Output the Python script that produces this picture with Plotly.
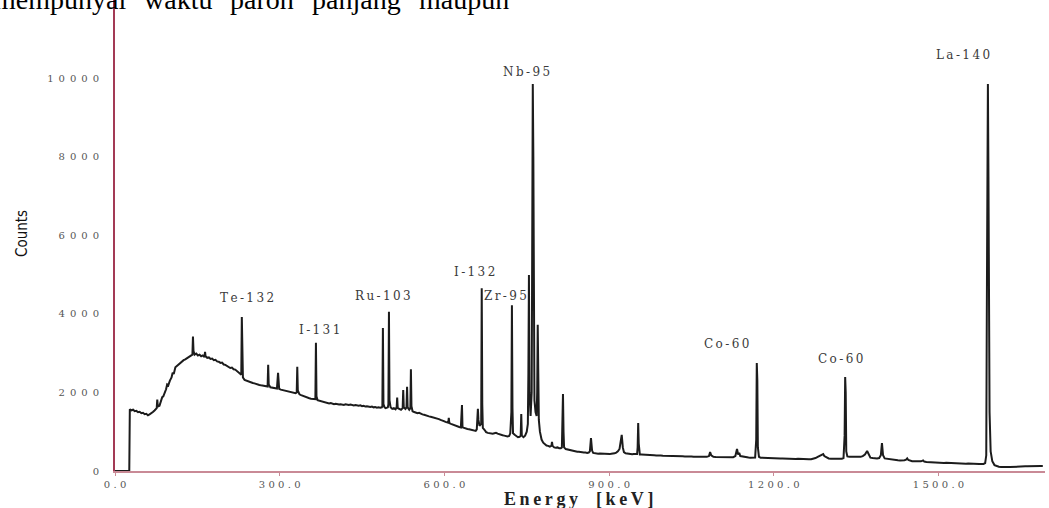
import plotly.graph_objects as go

# ---------------- data ----------------
spectrum_points = [
    (0, 0), (26, 0), (27, 1570), (30, 1545), (33, 1560), (36, 1520), (39, 1530), (42, 1495),
    (45, 1505), (48, 1470), (51, 1480), (54, 1445), (57, 1455), (60, 1420), (63, 1440),
    (66, 1465), (69, 1500), (72, 1540), (75, 1580), (76, 1600), (77, 1820), (78, 1640),
    (81, 1660), (84, 1780), (86, 1880), (88, 1900), (90, 1960), (93, 2080), (95, 2200),
    (97, 2180), (100, 2300), (103, 2380), (105, 2500), (107, 2470), (110, 2640), (113, 2680),
    (116, 2720), (119, 2760), (122, 2790), (125, 2820), (128, 2840), (131, 2870), (134, 2890),
    (137, 2910), (140, 2940), (141, 2960), (142, 3420), (143, 3050), (145, 2960), (148, 2990),
    (151, 2940), (154, 2960), (157, 2920), (160, 2940), (163, 2900), (164, 3030), (165, 2920),
    (168, 2880), (171, 2890), (174, 2850), (177, 2860), (180, 2820), (183, 2830), (186, 2790),
    (189, 2780), (192, 2750), (195, 2760), (198, 2710), (201, 2700), (204, 2670), (207, 2660),
    (210, 2620), (213, 2630), (216, 2590), (219, 2580), (222, 2540), (225, 2520), (228, 2470),
    (230, 2450), (231, 3920), (232, 2600), (233, 2380), (236, 2320), (239, 2300), (242, 2290),
    (245, 2270), (248, 2260), (251, 2240), (254, 2230), (257, 2210), (260, 2200), (263, 2190),
    (266, 2180), (269, 2170), (272, 2160), (275, 2150), (278, 2150), (279, 2700), (280, 2200),
    (283, 2130), (286, 2120), (289, 2110), (292, 2100), (295, 2100), (297, 2500), (299, 2090),
    (302, 2070), (305, 2060), (308, 2050), (311, 2040), (314, 2030), (317, 2020), (320, 2010),
    (323, 2000), (326, 1990), (329, 1980), (331, 2000), (332, 2650), (333, 2050), (336, 1950),
    (339, 1930), (342, 1910), (345, 1890), (348, 1870), (351, 1860), (354, 1850), (357, 1840),
    (360, 1830), (363, 1820), (365, 1830), (366, 3260), (367, 1900), (369, 1800), (372, 1790),
    (375, 1770), (378, 1760), (381, 1750), (384, 1740), (387, 1730), (390, 1720), (393, 1730),
    (396, 1710), (399, 1700), (402, 1710), (405, 1700), (408, 1690), (411, 1700), (414, 1690),
    (417, 1680), (420, 1700), (423, 1690), (426, 1680), (429, 1690), (432, 1680), (435, 1670),
    (438, 1680), (441, 1670), (444, 1660), (447, 1670), (450, 1650), (453, 1660), (456, 1640),
    (459, 1650), (462, 1640), (465, 1630), (468, 1640), (471, 1620), (474, 1630), (477, 1610),
    (480, 1620), (483, 1610), (486, 1620), (487, 1650), (488, 3640), (489, 1700), (491, 1620),
    (493, 1600), (497, 1620), (498, 1700), (499, 4050), (500, 1800), (502, 1620), (505, 1580),
    (508, 1600), (511, 1570), (513, 1620), (514, 1870), (515, 1600), (518, 1580), (521, 1560),
    (524, 1600), (525, 2060), (526, 1620), (529, 1580), (531, 1620), (532, 2140), (533, 1620),
    (536, 1560), (538, 1600), (539, 2590), (540, 1650), (542, 1520), (545, 1500), (548, 1490),
    (551, 1470), (554, 1480), (557, 1450), (560, 1440), (563, 1430), (566, 1410), (569, 1400),
    (572, 1390), (575, 1380), (578, 1370), (581, 1350), (584, 1340), (587, 1330), (590, 1320),
    (593, 1300), (596, 1290), (599, 1270), (602, 1250), (605, 1230), (607, 1230), (608, 1350),
    (609, 1220), (612, 1200), (615, 1180), (618, 1170), (621, 1150), (624, 1140), (627, 1120),
    (630, 1110), (632, 1680), (633, 1110), (636, 1090), (639, 1080), (642, 1070), (645, 1060),
    (648, 1050), (651, 1040), (654, 1030), (657, 1020), (659, 1060), (661, 1580), (662, 1300),
    (664, 1150), (667, 1200), (668, 4650), (669, 1700), (670, 1100), (673, 1050), (676, 990),
    (679, 970), (682, 960), (685, 960), (688, 950), (691, 960), (694, 970), (697, 950),
    (700, 930), (703, 920), (706, 910), (709, 900), (712, 890), (715, 880), (718, 890),
    (720, 960), (722, 1500), (723, 4220), (724, 1600), (725, 960), (728, 920), (731, 880),
    (734, 860), (737, 870), (739, 900), (740, 1450), (741, 900), (744, 860), (747, 900),
    (750, 1000), (752, 1200), (753, 2500), (754, 4990), (755, 2000), (757, 1400), (759, 2000),
    (760, 6000), (761, 9850), (762, 8000), (763, 2500), (764, 1800), (766, 1500), (768, 1400),
    (769, 2000), (770, 3720), (771, 2500), (772, 1300), (774, 1000), (777, 800), (780, 720),
    (783, 680), (786, 650), (789, 640), (792, 620), (795, 640), (796, 740), (797, 640),
    (800, 600), (803, 590), (806, 600), (809, 580), (812, 580), (814, 600), (815, 1200),
    (816, 1960), (817, 1000), (818, 600), (821, 560), (824, 550), (827, 530), (830, 520),
    (833, 510), (836, 500), (839, 500), (842, 490), (845, 490), (848, 480), (851, 480),
    (854, 470), (857, 470), (860, 460), (863, 470), (865, 500), (867, 840), (869, 520),
    (871, 460), (874, 450), (877, 450), (880, 440), (883, 445), (886, 440), (889, 440),
    (892, 435), (895, 440), (898, 435), (901, 430), (904, 440), (907, 440), (910, 450),
    (913, 470), (916, 500), (919, 560), (921, 700), (923, 920), (925, 600), (927, 480),
    (930, 450), (933, 440), (936, 430), (939, 430), (942, 425), (945, 430), (948, 425),
    (951, 430), (952, 600), (953, 1220), (954, 700), (956, 420), (959, 420), (962, 415),
    (966, 410), (970, 410), (974, 405), (978, 400), (982, 400), (986, 395), (990, 400),
    (994, 395), (998, 390), (1002, 390), (1006, 385), (1010, 385), (1014, 380), (1018, 385),
    (1022, 380), (1026, 375), (1030, 380), (1034, 375), (1038, 370), (1042, 375), (1046, 370),
    (1050, 370), (1054, 365), (1058, 365), (1062, 365), (1066, 360), (1070, 365), (1074, 360),
    (1078, 360), (1082, 380), (1084, 480), (1086, 400), (1090, 360), (1094, 355), (1098, 355),
    (1102, 350), (1106, 355), (1110, 350), (1114, 350), (1118, 345), (1122, 345), (1126, 350),
    (1130, 380), (1133, 560), (1135, 420), (1137, 460), (1139, 380), (1142, 370), (1145, 360),
    (1148, 350), (1151, 345), (1154, 345), (1157, 340), (1160, 345), (1163, 340), (1166, 345),
    (1168, 800), (1169, 2750), (1170, 2300), (1171, 600), (1173, 360), (1176, 340), (1180, 335),
    (1184, 330), (1188, 330), (1192, 325), (1196, 330), (1200, 325), (1204, 320), (1208, 320),
    (1212, 315), (1216, 320), (1220, 315), (1224, 310), (1228, 315), (1232, 310), (1236, 310),
    (1240, 305), (1244, 310), (1248, 305), (1252, 300), (1256, 305), (1260, 300), (1264, 300),
    (1268, 300), (1272, 310), (1276, 330), (1280, 360), (1284, 380), (1288, 400), (1290, 430),
    (1292, 380), (1296, 340), (1300, 320), (1304, 310), (1308, 310), (1312, 305), (1316, 310),
    (1320, 305), (1324, 310), (1327, 330), (1329, 900), (1330, 2390), (1331, 2000), (1332, 500),
    (1334, 370), (1338, 360), (1342, 360), (1346, 355), (1350, 350), (1354, 355), (1358, 360),
    (1362, 380), (1366, 420), (1370, 510), (1373, 400), (1376, 340), (1380, 330), (1384, 320),
    (1388, 320), (1392, 330), (1395, 400), (1397, 710), (1399, 400), (1402, 320), (1406, 310),
    (1410, 300), (1414, 290), (1418, 280), (1422, 280), (1426, 275), (1430, 270), (1434, 270),
    (1438, 275), (1441, 290), (1443, 320), (1445, 280), (1448, 260), (1452, 250), (1456, 245),
    (1460, 250), (1464, 240), (1468, 245), (1472, 270), (1474, 240), (1478, 230), (1482, 225),
    (1486, 230), (1490, 220), (1494, 215), (1498, 220), (1502, 215), (1506, 210), (1510, 205),
    (1514, 210), (1518, 205), (1522, 200), (1526, 200), (1530, 195), (1534, 200), (1538, 190),
    (1542, 195), (1546, 190), (1550, 185), (1554, 190), (1558, 185), (1562, 180), (1566, 185),
    (1570, 180), (1574, 175), (1578, 180), (1582, 180), (1585, 200), (1587, 400), (1588, 4000),
    (1589, 9600), (1590, 9850), (1591, 7500), (1592, 4300), (1593, 1500), (1595, 500),
    (1598, 250), (1602, 150), (1606, 120), (1610, 110), (1614, 100), (1618, 95), (1622, 95),
    (1626, 100), (1630, 100), (1634, 105), (1638, 105), (1642, 110), (1646, 110), (1650, 115),
    (1654, 115), (1658, 120), (1662, 120), (1666, 125), (1670, 125), (1674, 125), (1678, 130),
    (1682, 130), (1686, 130), (1690, 130),
]
energy_kev = [p[0] for p in spectrum_points]
counts = [p[1] for p in spectrum_points]

peak_labels = ["Te-132", "I-131", "Ru-103", "I-132", "Zr-95", "Nb-95", "Co-60", "Co-60", "La-140"]
label_kev = [240, 373, 488, 654, 712, 749, 1113, 1321, 1545]
label_counts = [4400, 3590, 4450, 5060, 4450, 10150, 3230, 2850, 10590]

x_tick_vals = [0, 300, 600, 900, 1200, 1500]
x_tick_text = ["0.0", "300.0", "600.0", "900.0", "1200.0", "1500.0"]
y_tick_vals = [0, 2000, 4000, 6000, 8000, 10000]
y_tick_text = ["0", "2000", "4000", "6000", "8000", "10000"]

top_words = ["mempunyai", "waktu", "paroh", "panjang", "maupun"]
top_word_px = [-8, 142, 228, 310, 417]

# ---------------- figure ----------------
def spaced(s, sep):
    return sep.join(list(s))

fig = go.Figure()
fig.add_trace(go.Scatter(
    x=energy_kev, y=counts, mode="lines",
    line=dict(color="#1c1c1c", width=2),
    hoverinfo="skip", showlegend=False,
))

serif = "DejaVu Serif, Liberation Serif, serif"
annotations = []
for name, xv, yv in zip(peak_labels, label_kev, label_counts):
    annotations.append(dict(
        x=xv, y=yv, xref="x", yref="y", text=spaced(name, "\u2009"),
        showarrow=False, font=dict(family=serif, size=12, color="#3a3a3a"),
    ))

# y axis title
annotations.append(dict(
    x=0, y=(471 - 234) / 471, xref="paper", yref="paper", xshift=-104,
    text="Counts", textangle=-90, showarrow=False,
    font=dict(family="Liberation Sans Narrow, DejaVu Sans Condensed, sans-serif", size=15, color="#111"),
))
# x axis title
annotations.append(dict(
    x=0, y=0, xref="paper", yref="paper", xshift=578 - 115, yshift=-16,
    xanchor="center", yanchor="top",
    text="<b>" + "\u2009".join(list("Energy")) + "\u2002\u2002" + "\u2009".join(list("[keV]")) + "</b>",
    showarrow=False, font=dict(family="Liberation Serif, serif", size=18, color="#222"),
))
# cut-off running text at the top of the page
for w, px in zip(top_words, top_word_px):
    annotations.append(dict(
        x=0, y=1, xref="paper", yref="paper", xshift=px - 115, yshift=-17,
        xanchor="left", yanchor="bottom", text=w, showarrow=False,
        font=dict(family="Liberation Serif, serif", size=28, color="#000"),
    ))

fig.update_layout(
    width=1049, height=508,
    margin=dict(l=115, r=4, t=0, b=37),
    paper_bgcolor="white", plot_bgcolor="white",
    annotations=annotations,
    xaxis=dict(
        range=[0, 1694], showgrid=False, zeroline=False,
        showline=True, linecolor="#c98a96", linewidth=1.5,
        ticks="outside", ticklen=3, tickcolor="#c98a96",
        tickvals=x_tick_vals, ticktext=[spaced(t, "\u2004") for t in x_tick_text],
        tickfont=dict(family=serif, size=10, color="#555"),
    ),
    yaxis=dict(
        range=[0, 11985], showgrid=False, zeroline=False,
        showline=True, linecolor="#a33a55", linewidth=2,
        ticks="", tickvals=y_tick_vals, ticktext=[spaced(t, "\u2002") for t in y_tick_text],
        tickfont=dict(family=serif, size=10, color="#555"),
        ticklabelstandoff=12,
    ),
)

fig.write_html("out.html", config={"displayModeBar": False},
               post_script="document.body.style.margin='0px';")
